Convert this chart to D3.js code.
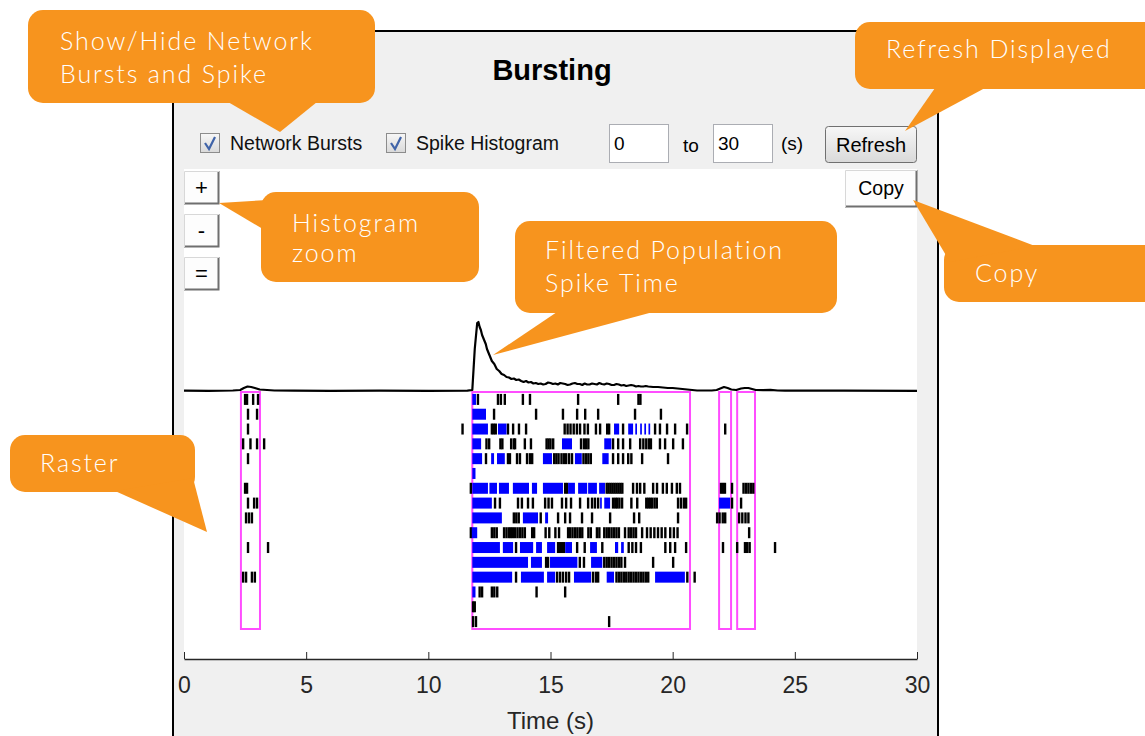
<!DOCTYPE html>
<html>
<head>
<meta charset="utf-8">
<script src="https://cdn.jsdelivr.net/npm/d3@7"></script>
<style>
  body { margin: 0; background: #fff; overflow: hidden; }
  text { font-family: "Liberation Sans", Arial, sans-serif; }
  .callout text { font-family: Lato, "Open Sans", sans-serif; font-weight: 300; letter-spacing: 1.9px; fill: #fff; }
</style>
</head>
<body>
<div id="container"></div>
<script>
/* DATA */
const xTicks = [0, 5, 10, 15, 20, 25, 30];
const channels = d3.range(1, 17);

// network bursts (s), drawn as magenta boxes
const networkBursts = [[2.33, 3.11], [11.8, 20.71], [21.9, 22.39], [22.64, 23.37]];

// single spikes per channel (black ticks), channel 1 first
const spikeTimes = [
  [2.5, 2.58, 2.83, 3.03, 12.03, 12.85, 12.97, 13.13, 13.87, 14.16, 16.13, 17.77, 18.6, 18.68],
  [2.62, 2.99, 12.69, 14.41, 15.51, 16.09, 16.42, 16.95, 18.46, 19.52],
  [2.62, 11.4, 12.6, 12.68, 12.76, 13.26, 13.47, 13.71, 14.0, 15.58, 15.7, 15.82, 15.95, 16.08, 16.21, 16.39, 16.53, 16.86, 17.03, 17.32, 17.4, 17.97, 19.28, 19.48, 19.77, 20.1, 20.59, 22.15],
  [2.42, 2.72, 2.99, 3.28, 12.38, 12.49, 12.95, 13.03, 13.39, 13.5, 13.55, 13.95, 14.2, 14.84, 14.92, 15.0, 15.11, 16.25, 16.37, 16.46, 16.55, 17.56, 17.77, 17.97, 18.26, 18.67, 18.8, 18.92, 19.03, 19.11, 19.48, 19.69, 20.02, 20.42],
  [2.62, 12.36, 13.26, 13.34, 13.63, 13.75, 14.04, 14.16, 14.25, 15.15, 15.24, 15.33, 15.45, 15.55, 15.64, 15.76, 15.88, 16.35, 16.45, 16.55, 16.65, 17.56, 17.77, 17.97, 18.18, 18.31, 18.75, 19.81],
  [],
  [2.5, 2.58, 11.74, 15.6, 15.68, 17.3, 17.38, 17.46, 17.54, 17.62, 17.7, 17.78, 17.86, 17.94, 18.38, 18.54, 18.67, 18.84, 19.2, 19.36, 19.6, 19.76, 19.97, 20.17, 20.3, 21.98, 22.06, 22.14, 22.43, 22.9, 23.0, 23.1, 23.2, 23.3],
  [2.62, 2.87, 2.99, 12.73, 12.93, 13.67, 13.83, 14.08, 14.28, 14.78, 14.92, 15.06, 15.47, 15.64, 15.84, 16.21, 16.54, 16.7, 16.82, 16.95, 17.56, 17.65, 17.73, 17.82, 17.93, 18.31, 18.55, 18.92, 19.0, 19.08, 19.16, 19.26, 19.35, 20.22, 20.34, 20.46, 20.55, 22.43, 22.8],
  [2.54, 2.66, 2.78, 13.5, 13.6, 13.7, 14.6, 15.31, 15.6, 15.8, 16.29, 16.7, 17.44, 18.42, 18.63, 20.22, 21.82, 21.92, 22.05, 22.15, 22.72, 22.85, 22.98, 23.1],
  [11.74, 12.6, 12.7, 12.8, 13.1, 13.2, 13.3, 13.38, 13.46, 13.55, 13.65, 13.75, 13.85, 13.95, 14.25, 14.33, 14.8, 14.95, 15.2, 15.35, 15.72, 15.8, 15.9, 16.0, 16.1, 16.2, 16.3, 16.55, 16.65, 16.9, 17.0, 17.2, 17.3, 17.4, 17.5, 17.6, 17.7, 17.8, 18.05, 18.2, 18.3, 18.4, 18.5, 18.75, 18.95, 19.1, 19.25, 19.4, 19.55, 19.7, 19.9, 20.05, 20.2, 23.13],
  [2.62, 3.44, 13.59, 15.31, 15.39, 15.47, 15.55, 16.09, 16.4, 17.12, 18.2, 18.35, 18.5, 18.7, 19.7, 19.9, 20.1, 20.55, 22.06, 22.64, 22.96, 23.05, 23.15, 24.19],
  [14.82, 14.9, 16.2, 16.37, 17.2, 17.3, 17.4, 17.5, 17.6, 17.7, 17.8, 17.9, 18.05, 19.2, 20.02],
  [2.42, 2.54, 2.78, 2.9, 13.59, 15.27, 15.39, 15.51, 15.64, 15.76, 16.74, 16.86, 16.95, 17.7, 17.8, 17.9, 18.0, 18.1, 18.2, 18.3, 18.4, 18.5, 18.6, 18.7, 18.8, 18.9, 19.0, 20.6, 20.9],
  [12.1, 12.2, 12.6, 12.7, 12.82, 14.43, 15.6],
  [11.83, 11.9],
  [11.83, 11.95, 17.4]
];

// spikes that belong to single-channel bursts (blue), as [start, end]
const burstSpans = [
  [[11.8, 11.95]],
  [[11.8, 12.36]],
  [[11.8, 12.44], [12.85, 13.2], [17.6, 17.81], [18.18, 18.38], [18.47, 18.54], [18.67, 18.74], [18.84, 18.91], [19.01, 19.08]],
  [[11.8, 12.16], [15.47, 15.88], [17.2, 17.49]],
  [[11.8, 12.2], [12.57, 12.69], [12.81, 13.13], [14.69, 15.06], [16.0, 16.28], [17.12, 17.38]],
  [[11.8, 11.93]],
  [[11.8, 12.44], [12.5, 12.81], [12.89, 13.3], [13.46, 14.12], [14.24, 14.45], [14.69, 15.51], [15.72, 16.0], [16.13, 16.5], [16.54, 16.9], [16.99, 17.23]],
  [[11.8, 12.6], [17.03, 17.1], [17.2, 17.44], [21.9, 22.35]],
  [[11.8, 13.01], [13.87, 14.49], [14.78, 14.9]],
  [[11.78, 12.0]],
  [[11.8, 12.93], [13.05, 13.47], [13.75, 14.29], [14.41, 14.65], [14.86, 15.19], [15.6, 15.88], [16.62, 16.9], [17.64, 17.77], [17.89, 18.0]],
  [[11.8, 14.08], [14.2, 14.65], [14.98, 16.1], [16.66, 17.12]],
  [[11.8, 13.43], [13.79, 14.73], [14.86, 15.19], [15.96, 16.66], [17.3, 17.6], [19.28, 20.5]],
  [[11.8, 11.93]],
  [],
  []
];

// filtered population spike time histogram: [time (s), rate]
const histogram = [
  [0, 0.3], [1.0, 0.2], [2.0, 0.5], [2.3, 1], [2.45, 3], [2.6, 4.5], [2.75, 4], [2.9, 3], [3.1, 1.5], [3.4, 1],
  [3.7, 0.5], [4.5, 0.3], [6, 0.2], [8, 0.3], [10, 0.2], [11.6, 0.3], [11.8, 1], [11.9, 42], [12.0, 68], [12.05, 69],
  [12.1, 64], [12.15, 61], [12.2, 56], [12.3, 50], [12.35, 47], [12.4, 42], [12.5, 36], [12.6, 30], [12.7, 27], [12.8, 22],
  [12.9, 20], [13.0, 17], [13.1, 16], [13.2, 14], [13.3, 13.5], [13.4, 12], [13.5, 12.5], [13.6, 11], [13.7, 11.5], [13.8, 10],
  [13.9, 9], [14.0, 10], [14.1, 8.5], [14.2, 9], [14.3, 7.5], [14.4, 8], [14.5, 7], [14.6, 7.5], [14.7, 6.5], [14.8, 7],
  [14.9, 8.5], [15.0, 8], [15.1, 7], [15.2, 7.5], [15.3, 6.5], [15.4, 8], [15.5, 7.5], [15.6, 7], [15.7, 6], [15.8, 6.5],
  [15.9, 7.5], [16.0, 8], [16.1, 7], [16.2, 7], [16.3, 6], [16.4, 7.5], [16.5, 6.5], [16.6, 6.5], [16.7, 7.5], [16.8, 7],
  [16.9, 6.5], [17.0, 8], [17.1, 7], [17.2, 6.5], [17.3, 7.5], [17.4, 7], [17.5, 6], [17.6, 6], [17.7, 7], [17.8, 6.5],
  [17.9, 5.5], [18.0, 6], [18.1, 5], [18.2, 5.5], [18.3, 6], [18.4, 5.5], [18.5, 4.5], [18.6, 5], [18.7, 4.5], [18.8, 4.5],
  [18.9, 5], [19.0, 4.5], [19.2, 4], [19.4, 4], [19.6, 3.5], [19.8, 3], [20.0, 3], [20.2, 2.5], [20.4, 2], [20.6, 1.5],
  [20.8, 1], [21.0, 0.5], [21.6, 0.5], [21.8, 1], [22.0, 3], [22.1, 4], [22.25, 3], [22.4, 1.5], [22.6, 1], [22.8, 2.5],
  [22.95, 3], [23.1, 3], [23.25, 2], [23.4, 1], [23.7, 0.8], [24.0, 1.2], [24.3, 0.5], [24.6, 0.4], [27, 0.3], [30, 0.2]
];

const calloutLabels = [
  ["Show/Hide Network", "Bursts and Spike"],
  ["Refresh Displayed"],
  ["Histogram", "zoom"],
  ["Filtered Population", "Spike Time"],
  ["Copy"],
  ["Raster"]
];

/* LAYOUT */
const W = 1145, H = 736;
const plot = { left: 184, right: 917, top: 169, bottom: 659 };
const orange = "#f7941e";

const svg = d3.select("#container").append("svg")
  .attr("width", W).attr("height", H);

const defs = svg.append("defs");
const grad = defs.append("linearGradient").attr("id", "btn").attr("x1", 0).attr("x2", 0).attr("y1", 0).attr("y2", 1);
grad.append("stop").attr("offset", "0%").attr("stop-color", "#f7f7f7");
grad.append("stop").attr("offset", "100%").attr("stop-color", "#d9d9d9");

/* PANEL */
svg.append("rect")
  .attr("x", 173).attr("y", 31).attr("width", 938 - 173).attr("height", 720)
  .attr("fill", "#f0f0f0").attr("stroke", "#000").attr("stroke-width", 2);

svg.append("text")
  .attr("x", 552).attr("y", 80).attr("text-anchor", "middle")
  .attr("font-size", 29).attr("font-weight", "bold").text("Bursting");

// checkboxes
const checks = [{ x: 200, label: "Network Bursts" }, { x: 386, label: "Spike Histogram" }];
checks.forEach(c => {
  svg.append("rect").attr("x", c.x + 0.5).attr("y", 133.5).attr("width", 19).attr("height", 19)
    .attr("fill", "url(#btn)").attr("stroke", "#8c8c8c");
  svg.append("path")
    .attr("d", `M${c.x + 5},${143} L${c.x + 9},${149} L${c.x + 15},${137}`)
    .attr("fill", "none").attr("stroke", "#3f63a8").attr("stroke-width", 2.2);
  svg.append("text").attr("x", c.x + 30).attr("y", 150).attr("font-size", 19.5).attr("fill", "#111").text(c.label);
});

// time range inputs
[[609, "0"], [713, "30"]].forEach(([x, v]) => {
  svg.append("rect").attr("x", x + 0.5).attr("y", 124.5).attr("width", 59).attr("height", 38)
    .attr("fill", "#fff").attr("stroke", "#abadb3");
  svg.append("text").attr("x", x + 5).attr("y", 150).attr("font-size", 19).text(v);
});
svg.append("text").attr("x", 683).attr("y", 152).attr("font-size", 19).text("to");
svg.append("text").attr("x", 781).attr("y", 150).attr("font-size", 19).text("(s)");

// Refresh button
svg.append("rect").attr("x", 825.5).attr("y", 126.5).attr("width", 91).attr("height", 36).attr("rx", 3)
  .attr("fill", "url(#btn)").attr("stroke", "#707070");
svg.append("text").attr("x", 871).attr("y", 152).attr("text-anchor", "middle").attr("font-size", 20).text("Refresh");

/* AXES AREA */
svg.append("rect")
  .attr("x", plot.left).attr("y", plot.top)
  .attr("width", plot.right - plot.left).attr("height", plot.bottom - plot.top)
  .attr("fill", "#fff");

// small buttons
function flatButton(x, y, w, h, label, size) {
  svg.append("rect").attr("x", x).attr("y", y).attr("width", w).attr("height", h).attr("fill", "#fdfdfd");
  svg.append("path").attr("d", `M${x},${y + h - 0.5}H${x + w - 0.5}V${y}`)
    .attr("fill", "none").attr("stroke", "#6f6f6f").attr("stroke-width", 2);
  svg.append("path").attr("d", `M${x + 0.5},${y + h}V${y + 0.5}H${x + w}`)
    .attr("fill", "none").attr("stroke", "#d8d8d8");
  svg.append("text").attr("x", x + w / 2).attr("y", y + h / 2 + size * 0.35)
    .attr("text-anchor", "middle").attr("font-size", size).text(label);
}
flatButton(184, 171, 35, 33, "+", 22);
flatButton(184, 214, 35, 33, "-", 22);
flatButton(184, 257, 35, 33, "=", 22);
flatButton(845, 170, 72, 37, "Copy", 19.5);

/* SCALES */
const xScale = d3.scaleLinear().domain([0, 30]).range([plot.left, plot.right]);
const yRow = d3.scaleLinear().domain([0.5, 16.5]).range([392, 629]);
const yHist = d3.scaleLinear().domain([0, 70]).range([391, 321]);
const tickH = 11;

// network burst boxes
svg.append("g").selectAll("rect")
  .data(networkBursts)
  .join("rect")
  .attr("x", d => xScale(d[0]))
  .attr("y", yRow(0.5))
  .attr("width", d => xScale(d[1]) - xScale(d[0]))
  .attr("height", yRow(16.5) - yRow(0.5))
  .attr("fill", "none")
  .attr("stroke", "#ff4dff")
  .attr("stroke-width", 2);

// raster: black spikes
const rows = svg.append("g").selectAll("g")
  .data(channels)
  .join("g");

rows.selectAll("rect.spike")
  .data(ch => spikeTimes[ch - 1].map(t => ({ ch, t })))
  .join("rect")
  .attr("class", "spike")
  .attr("x", d => xScale(d.t) - 1.2)
  .attr("y", d => yRow(d.ch) - tickH / 2)
  .attr("width", 2.4)
  .attr("height", tickH)
  .attr("fill", "#000");

// raster: burst spikes (blue)
rows.selectAll("rect.burst")
  .data(ch => burstSpans[ch - 1].map(s => ({ ch, s })))
  .join("rect")
  .attr("class", "burst")
  .attr("x", d => xScale(d.s[0]))
  .attr("y", d => yRow(d.ch) - tickH / 2)
  .attr("width", d => xScale(d.s[1]) - xScale(d.s[0]))
  .attr("height", tickH)
  .attr("fill", "#0000ff");

// histogram line
svg.append("path")
  .datum(histogram)
  .attr("d", d3.line().x(d => xScale(d[0])).y(d => yHist(d[1])))
  .attr("fill", "none")
  .attr("stroke", "#000")
  .attr("stroke-width", 2.2)
  .attr("stroke-linejoin", "round");

// x axis
const xAxis = d3.axisBottom(xScale)
  .tickValues(xTicks)
  .tickSizeInner(-7)
  .tickSizeOuter(0)
  .tickPadding(18);

const gx = svg.append("g")
  .attr("transform", `translate(0, ${plot.bottom})`)
  .call(xAxis);
gx.select(".domain").attr("stroke", "#262626").attr("stroke-width", 1.5);
gx.selectAll(".tick line").attr("stroke", "#262626");
gx.selectAll(".tick text")
  .attr("font-size", 23)
  .attr("font-family", "Liberation Sans, Arial, sans-serif")
  .attr("fill", "#262626");

svg.append("text")
  .attr("x", (plot.left + plot.right) / 2).attr("y", 729)
  .attr("text-anchor", "middle").attr("font-size", 24).attr("fill", "#262626")
  .text("Time (s)");

/* CALLOUTS */
const callouts = [
  { box: [28, 10, 347, 93], tail: [[228, 102], [317, 102], [280, 132]], tx: 60, ty: [50, 83] },
  { box: [855, 22, 320, 67], tail: [[935, 88], [985, 88], [905, 131]], tx: 886, ty: [58] },
  { box: [261, 192, 218, 90], tail: [[268, 200], [268, 232], [219, 203]], tx: 292, ty: [232, 262] },
  { box: [515, 221, 322, 92], tail: [[557, 312], [653, 312], [493, 355]], tx: 545, ty: [259, 292] },
  { box: [944, 245, 220, 57], tail: [[1035, 246], [950, 262], [913, 200]], tx: 975, ty: [282] },
  { box: [10, 435, 185, 57], tail: [[115, 491], [193, 478], [207, 532]], tx: 40, ty: [472] }
];

const cg = svg.append("g").attr("class", "callout");
callouts.forEach((c, i) => {
  const g = cg.append("g");
  g.append("rect")
    .attr("x", c.box[0]).attr("y", c.box[1]).attr("width", c.box[2]).attr("height", c.box[3])
    .attr("rx", 15).attr("fill", orange);
  g.append("polygon").attr("points", c.tail.map(p => p.join(",")).join(" ")).attr("fill", orange);
  calloutLabels[i].forEach((line, j) => {
    g.append("text").attr("x", c.tx).attr("y", c.ty[j]).attr("font-size", 25).text(line);
  });
});
</script>
</body>
</html>
